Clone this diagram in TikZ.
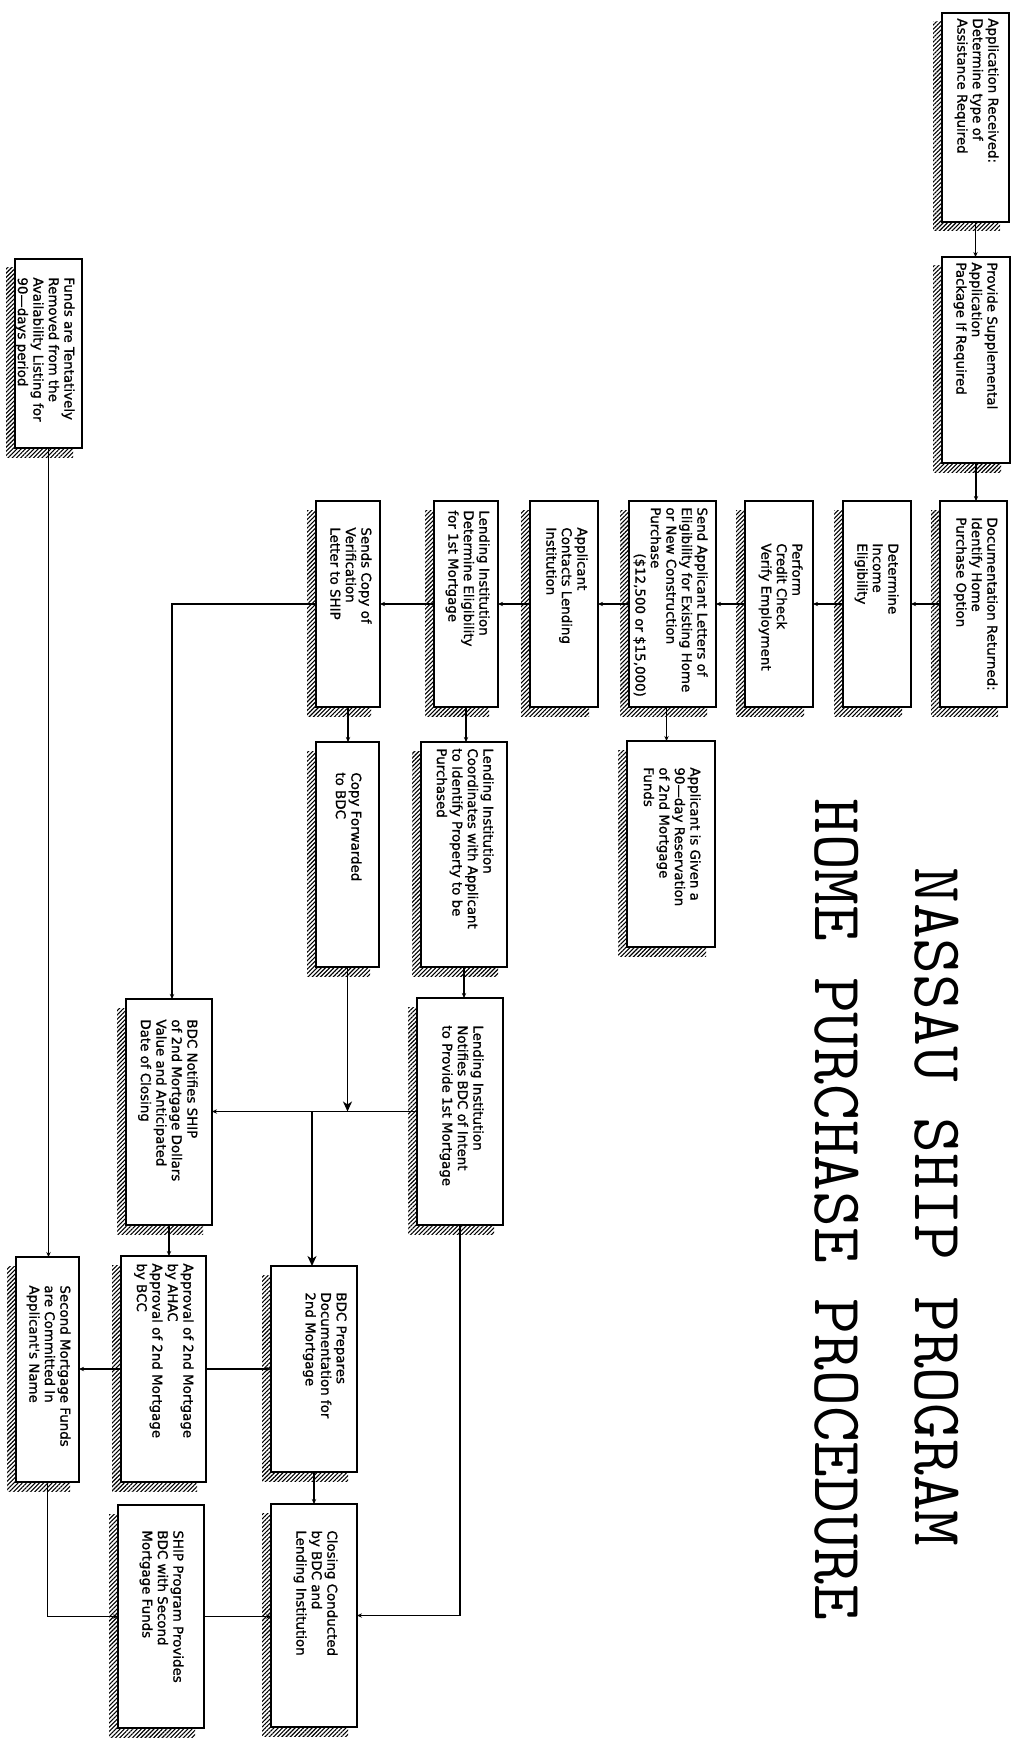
\documentclass[tikz,border=0pt]{standalone}
\usepackage{fontspec}
\newfontfamily\boxfont[FakeBold=1]{DejaVu Sans}
\usetikzlibrary{arrows.meta,patterns.meta,calc}

\tikzset{
  hatch/.style={pattern={Lines[angle=45,distance=1.5pt,line width=0.55pt]}},
  boxst/.style={draw, fill=white, line width=1pt, inner sep=0pt, outer sep=0pt, rectangle},
  txt/.style={rotate=-90, anchor=north west, align=left, inner sep=0pt,
              font=\boxfont\fontsize{6.7pt}{7.75pt}\selectfont},
  conn/.style={line width=0.95pt, -{Stealth[length=2.5pt,width=2.2pt]}},
  bigconn/.style={line width=0.95pt, -{Stealth[length=5pt,width=4.5pt,inset=1.5pt]}},
  ttl/.style={rotate=-90, anchor=base west, inner sep=0pt,
              font=\ttfamily\addfontfeatures{FakeBold=1.2}\fontsize{34.7pt}{36pt}\selectfont}
}

\newcommand{\flowbox}[5]{%
  \path[hatch] ({#2-9},{#3+9}) rectangle ({#4-9},{#5+9});
  \node[boxst, minimum width={(#4-#2)*0.5pt}, minimum height={(#5-#3)*0.5pt}]
    (#1) at ({(#2+#4)/2},{(#3+#5)/2}) {};
}
\newcommand{\flowtext}[4]{\node[txt] (#1) at (#2,#3) {#4};}

\begin{document}
\begin{tikzpicture}[x=0.5pt,y=-0.5pt]
\useasboundingbox (0,0) rectangle (1025,1743);

% titles
\node[ttl] (title1) at (915,867) {NASSAU SHIP PROGRAM};
\node[ttl] (title2) at (815,798) {HOME PURCHASE PROCEDURE};

% boxes
\flowbox{b1}{942}{13}{1009}{222}
\flowbox{b2}{942}{257}{1010}{463}
\flowbox{b3}{940}{501}{1007}{707}
\flowbox{b4}{843}{501}{911}{707}
\flowbox{b5}{745}{501}{813}{707}
\flowbox{b6}{629}{501}{716}{707}
\flowbox{b7}{530}{501}{598}{707}
\flowbox{b8}{434}{501}{498}{707}
\flowbox{b9}{316}{501}{380}{707}
\flowbox{ag}{627}{741}{715}{947}
\flowbox{cf}{316}{742}{379}{967}
\flowbox{co}{421}{742}{507}{967}
\flowbox{ln}{417}{998}{503}{1225}
\flowbox{bn}{126}{999}{212}{1225}
\flowbox{bp}{271}{1266}{357}{1472}
\flowbox{ap}{121}{1256}{206}{1482}
\flowbox{sm}{16}{1257}{79}{1482}
\flowbox{sp}{118}{1505}{204}{1728}
\flowbox{cl}{271}{1504}{357}{1727}
\flowbox{fu}{15}{259}{82}{448}

% texts
\flowtext{t1}{999}{18}{Application Received:\\Determine type of\\Assistance Required}
\flowtext{t2}{998}{262}{Provide Supplemental\\Application\\Package If Required}
\flowtext{t3}{998}{517}{Documentation Returned:\\Identify Home\\Purchase Option}
\flowtext{t4}{899}{543}{Determine\\Income\\Eligibility}
\flowtext{t5}{803}{543}{Perform\\Credit Check\\Verify Employment}
\flowtext{t6}{708}{507}{Send Applicant Letters of\\Eligibility for Existing Home\\or New Construction\\Purchase\\\hspace*{23pt}(\$12,500 or \$15,000)}
\flowtext{t7}{588}{527}{Applicant\\Contacts Lending\\Institution}
\flowtext{t8}{490}{510}{Lending Institution\\Determine Eligibility\\for 1st Mortgage}
\flowtext{t9}{372}{527}{Sends Copy of\\Verification\\Letter to SHIP}
\flowtext{tag}{701}{767}{Applicant is Given a\\90—day Reservation\\of 2nd Mortgage\\Funds}
\flowtext{tcf}{362}{772}{Copy Forwarded\\to BDC}
\flowtext{tco}{494}{748}{Lending Institution\\Coordinates with Applicant\\to Identify Property to be\\Purchased}
\flowtext{tln}{484}{1025}{Lending Institution\\Notifies BDC of Intent\\to Provide 1st Mortgage}
\flowtext{tbn}{198}{1019}{BDC Notifies SHIP\\of 2nd Mortgage Dollars\\Value and Anticipated\\Date of Closing}
\flowtext{tbp}{347}{1292}{BDC Prepares\\Documentation for\\2nd Mortgage}
\flowtext{tap}{194}{1263}{Approval of 2nd Mortgage\\by AHAC\\Approval of 2nd Mortgage\\by BCC}
\flowtext{tsm}{71}{1285}{Second Mortgage Funds\\are Committed In\\Applicant's Name}
\flowtext{tsp}{184}{1530}{SHIP Program Provides\\BDC with Second\\Mortgage Funds}
\flowtext{tcl}{338}{1530}{Closing Conducted\\by BDC and\\Lending Institution}
\flowtext{tfu}{75}{277}{Funds are Tentatively\\Removed from the\\Availability Listing for\\90—days period}

% connectors
\draw[conn] (b1.south) -- (b1.south |- b2.north);
\draw[conn] (b2.south) -- (b2.south |- b3.north);
\draw[conn] (b3.west) -- (b4.east);
\draw[conn] (b4.west) -- (b5.east);
\draw[conn] (b5.west) -- (b6.east);
\draw[conn] (b6.west) -- (b7.east);
\draw[conn] (b7.west) -- (b8.east);
\draw[conn] (b8.west) -- (b9.east);
\draw[conn] ([xshift=-3pt]b6.south) -- ([xshift=-3pt]b6.south |- ag.north);
\draw[conn] (b8.south) -- (b8.south |- co.north);
\draw[conn] (b9.south) -- (b9.south |- cf.north);
\draw[conn] (co.south) -- (co.south |- ln.north);
\draw[conn] (b9.west) -| ([xshift=1.5pt]bn.north);
\draw[conn] (ln.west) -- (ln.west -| bn.east);
\coordinate (j1) at (cf.south |- ln.west);
\coordinate (j2) at ([xshift=-1pt]bp.north |- ln.west);
\draw[bigconn] (cf.south) -- (j1);
\draw[bigconn] (j2) -- (j2 |- bp.north);
\draw[conn] (bn.south) -- (bn.south |- ap.north);
\draw[conn] (ap.east) -- (ap.east -| bp.west);
\draw[conn] (ap.west) -- (ap.west -| sm.east);
\draw[conn] (fu.south) -- (fu.south |- sm.north);
\draw[conn] (sm.south) |- (sp.west);
\draw[conn] (sp.east) -- (sp.east -| cl.west);
\draw[conn] (bp.south) -- (bp.south |- cl.north);
\draw[conn] (ln.south) |- (cl.east);
\end{tikzpicture}
\end{document}
